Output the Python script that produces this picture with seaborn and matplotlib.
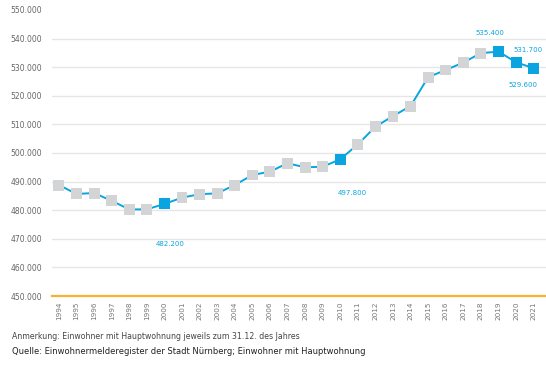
import numpy as np
import pandas as pd
import seaborn as sns
from matplotlib import pyplot as plt

# Einwohner jeweils zum Jahresende
years = list(range(1994, 2022))
einwohner = [488800, 485700, 486000, 483300, 480300, 480300, 482200, 484400,
             485600, 485900, 488800, 492300, 493500, 496400, 495000, 495200,
             497800, 503000, 509200, 512900, 516400, 526500, 529000, 531600,
             534900, 535400, 531700, 529600]
highlight_years = [2000, 2010, 2019, 2020, 2021]
y_ticks = list(range(450000, 550001, 10000))
note_text = "Anmerkung: Einwohner mit Hauptwohnung jeweils zum 31.12. des Jahres"
source_text = "Quelle: Einwohnermelderegister der Stadt Nürnberg; Einwohner mit Hauptwohnung"

BLUE = "#0aa5e0"
GREY = "#d3d4d5"
ORANGE = "#f5b333"

df = pd.DataFrame({"jahr": years, "einwohner": einwohner})
df["pos"] = range(len(df))
df["hl"] = df["jahr"].isin(highlight_years).map({True: "ja", False: "nein"})

sns.set_style("white")
plt.rcParams["font.family"] = ["DejaVu Sans"]

fig = plt.figure(figsize=(5.46, 3.66), dpi=100)
ax = fig.add_axes([0.095, 0.191, 0.905, 0.782])

sns.lineplot(data=df, x="pos", y="einwohner", color=BLUE, linewidth=1.4, ax=ax, zorder=2)
sns.scatterplot(data=df, x="pos", y="einwohner", hue="hl",
                palette={"ja": BLUE, "nein": GREY}, marker="s", s=62,
                linewidth=0, legend=False, ax=ax, zorder=3)

# Beschriftungen der hervorgehobenen Jahre (Versatz in Pixeln)
offsets = {2000: (6, -40), 2010: (12, -34), 2019: (-9, 19), 2020: (12, 12), 2021: (-11, -17)}
for _, r in df[df["hl"] == "ja"].iterrows():
    dx, dy = offsets[r["jahr"]]
    ax.annotate(f"{r['einwohner']:,}".replace(",", "."), (r["pos"], r["einwohner"]),
                xytext=(dx, dy), textcoords="offset pixels", ha="center", va="center",
                fontsize=5, color=BLUE)

ax.set_xlim(-0.4, len(df) - 0.3)
ax.set_ylim(450000, 550000)
ax.set_yticks(y_ticks)
ax.set_yticklabels([f"{v:,}".replace(",", ".") for v in y_ticks], fontsize=5.5, color="#666666")
ax.set_xticks(df["pos"])
ax.set_xticklabels(df["jahr"], rotation=90, fontsize=5.2, color="#777777")
ax.tick_params(axis="both", length=0)
ax.tick_params(axis="y", pad=7)
ax.tick_params(axis="x", pad=4)
for y in y_ticks[1:-1]:
    ax.axhline(y, color="#e6e6e6", linewidth=1, zorder=0)
for s in ["top", "right", "left"]:
    ax.spines[s].set_visible(False)
ax.spines["bottom"].set_color(ORANGE)
ax.spines["bottom"].set_linewidth(1.6)
ax.set_xlabel("")
ax.set_ylabel("")

fig.text(0.022, 0.073, note_text, fontsize=5.6, color="#444444")
fig.text(0.022, 0.032, source_text, fontsize=6, color="#222222")

plt.savefig("out.png", dpi=100)
